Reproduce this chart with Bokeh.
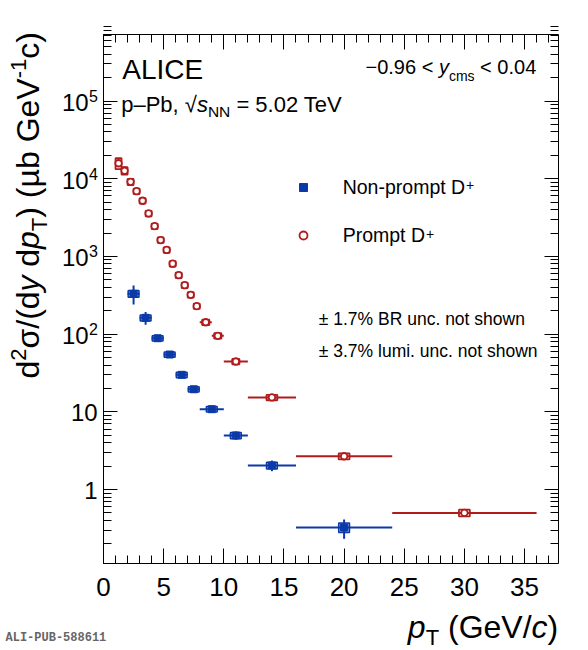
import math
from bokeh.plotting import figure
from bokeh.models import (Label, LinearAxis, LogAxis, FixedTicker, Legend,
                          LegendItem, Range1d, ColumnDataSource, CustomJSTickFormatter)
from bokeh.embed import file_html
from bokeh.resources import INLINE

# ---------------- data ----------------
# Prompt D+
prompt_pt = [1.25, 1.75, 2.25, 2.75, 3.25, 3.75, 4.25, 4.75, 5.25, 5.75,
             6.25, 6.75, 7.25, 7.75, 8.5, 9.5, 11.0, 14.0, 20.0, 30.0]
prompt_lo = [1.0, 1.5, 2.0, 2.5, 3.0, 3.5, 4.0, 4.5, 5.0, 5.5,
             6.0, 6.5, 7.0, 7.5, 8.0, 9.0, 10.0, 12.0, 16.0, 24.0]
prompt_hi = [1.5, 2.0, 2.5, 3.0, 3.5, 4.0, 4.5, 5.0, 5.5, 6.0,
             6.5, 7.0, 7.5, 8.0, 9.0, 10.0, 12.0, 16.0, 24.0, 36.0]
prompt_val = [15800, 12650, 9120, 6900, 5200, 3570, 2450, 1620, 1210, 805,
              573, 426, 320, 229, 142, 95, 44.4, 15.3, 2.68, 0.50]
prompt_stat_rel = [0.05, 0.04, 0.03, 0.03, 0.03, 0.03, 0.03, 0.03, 0.03, 0.03,
                   0.03, 0.03, 0.03, 0.03, 0.03, 0.04, 0.04, 0.05, 0.06, 0.09]
prompt_syst_rel = [0.16, 0.11, 0.09, 0.08, 0.08, 0.08, 0.08, 0.08, 0.08, 0.08,
                   0.08, 0.08, 0.08, 0.08, 0.08, 0.08, 0.08, 0.08, 0.09, 0.10]

# Non-prompt D+
np_pt = [2.5, 3.5, 4.5, 5.5, 6.5, 7.5, 9.0, 11.0, 14.0, 20.0]
np_lo = [2.0, 3.0, 4.0, 5.0, 6.0, 7.0, 8.0, 10.0, 12.0, 16.0]
np_hi = [3.0, 4.0, 5.0, 6.0, 7.0, 8.0, 10.0, 12.0, 16.0, 24.0]
np_val = [330, 162, 88.5, 54.6, 29.9, 19.5, 10.8, 4.96, 2.04, 0.324]
np_stat_up = [92, 30, 5.0, 3.0, 1.5, 1.0, 0.6, 0.6, 0.32, 0.087]
np_stat_dn = [90, 30, 5.0, 3.0, 1.5, 1.0, 0.6, 0.6, 0.32, 0.092]
np_syst_rel = [0.10, 0.09, 0.08, 0.08, 0.08, 0.08, 0.08, 0.09, 0.10, 0.14]

# axis ticks
x_ticks = [0, 5, 10, 15, 20, 25, 30, 35]
x_minor = list(range(0, 38))
y_ticks = [1, 10, 100, 1000, 10000, 100000]
y_tick_base = ["1", "10", "10", "10", "10", "10"]
y_tick_exp = ["", "", "2", "3", "4", "5"]
y_minor = [m * 10.0 ** e for e in range(-1, 6) for m in range(2, 10)]

# plotted box limits
X_MIN, X_MAX = 0.0, 37.8
Y_MIN, Y_MAX = 0.112, 7.2e5

# ---------------- style / geometry ----------------
FONT = "Liberation Sans"
RED = "#b01c1c"
BLUE = "#0b3aa8"
W_FIG, H_FIG = 586, 650
PX_X = 12.03          # px per GeV/c
X0_PX = 103.0         # page x of pT = 0
PX_DEC = 77.7         # px per decade
Y1_PX = 489.0         # page y of value 1
MID = 0.3465          # em distance from 'middle' to alphabetic baseline

# Arial / Liberation Sans advance widths (1/1000 em)
W = {' ': 278, '(': 333, ')': 333, '/': 278, '-': 333, '\u2212': 584, '\u2013': 556,
     '.': 278, ',': 278, '<': 584, '=': 584, '+': 584, '%': 889, '\u00b1': 584,
     '\u221a': 549, '\u00b5': 576, '\u03c3': 610,
     'a': 556, 'b': 556, 'c': 500, 'd': 556, 'e': 556, 'f': 278, 'g': 556, 'h': 556,
     'i': 222, 'j': 222, 'k': 500, 'l': 222, 'm': 833, 'n': 556, 'o': 556, 'p': 556,
     'q': 556, 'r': 333, 's': 500, 't': 278, 'u': 556, 'v': 500, 'w': 722, 'x': 500,
     'y': 500, 'z': 500,
     'A': 667, 'B': 667, 'C': 722, 'D': 722, 'E': 667, 'F': 611, 'G': 778, 'H': 722,
     'I': 278, 'J': 500, 'K': 667, 'L': 556, 'M': 833, 'N': 722, 'O': 778, 'P': 667,
     'Q': 778, 'R': 722, 'S': 667, 'T': 611, 'U': 722, 'V': 667, 'W': 944, 'X': 667,
     'Y': 667, 'Z': 611}


def tw(s, size):
    return sum(W.get(ch, 556) for ch in s) * size / 1000.0


p = figure(width=W_FIG, height=H_FIG,
           x_range=Range1d(-X0_PX / PX_X, (W_FIG - X0_PX) / PX_X),
           y_range=Range1d(10 ** (-(H_FIG - Y1_PX) / PX_DEC), 10 ** (Y1_PX / PX_DEC)),
           y_axis_type="log", output_backend="svg", toolbar_location=None,
           min_border=0, min_border_left=0, min_border_right=0,
           min_border_top=0, min_border_bottom=0)
p.background_fill_color = "white"
p.border_fill_color = "white"
p.outline_line_color = None
p.xgrid.visible = False
p.ygrid.visible = False


def style_axis(ax, ticks, minor, tin, mtin, labels, loc, bounds):
    ax.ticker = FixedTicker(ticks=ticks, minor_ticks=minor)
    ax.fixed_location = loc
    ax.bounds = bounds
    ax.major_tick_in = tin
    ax.major_tick_out = 0
    ax.minor_tick_in = mtin
    ax.minor_tick_out = 0
    ax.axis_line_color = "black"
    ax.major_tick_line_color = "black"
    ax.minor_tick_line_color = "black"
    ax.axis_line_width = 1
    ax.major_tick_line_width = 1
    ax.minor_tick_line_width = 1
    if labels:
        ax.major_label_text_font = FONT
        ax.major_label_text_font_size = "26px"
        ax.major_label_text_color = "black"
        ax.major_label_standoff = 15
    else:
        ax.formatter = CustomJSTickFormatter(code="return ''")
        ax.major_label_text_font_size = "10px"
        ax.major_label_standoff = 0


style_axis(p.xaxis[0], x_ticks, x_minor, 15, 8, True, Y_MIN, (X_MIN, X_MAX))
style_axis(p.yaxis[0], y_ticks, y_minor, 14, 8, False, X_MIN, (Y_MIN, Y_MAX))
top_ax = LinearAxis()
style_axis(top_ax, x_ticks, x_minor, 15, 8, False, Y_MAX, (X_MIN, X_MAX))
p.add_layout(top_ax, "above")
right_ax = LogAxis()
style_axis(right_ax, y_ticks, y_minor, 14, 8, False, X_MAX, (Y_MIN, Y_MAX))
p.add_layout(right_ax, "right")

# ---------------- data marks ----------------
def red_half(lo, hi):
    w = hi - lo
    return 0.25 if w < 1 else (0.3 if w <= 2 else 0.45)

src_p = ColumnDataSource(dict(
    pt=prompt_pt, lo=prompt_lo, hi=prompt_hi, val=prompt_val,
    sup=[v * (1 + s) for v, s in zip(prompt_val, prompt_stat_rel)],
    sdn=[v * (1 - s) for v, s in zip(prompt_val, prompt_stat_rel)],
    bl=[x - red_half(a, b) for x, a, b in zip(prompt_pt, prompt_lo, prompt_hi)],
    br=[x + red_half(a, b) for x, a, b in zip(prompt_pt, prompt_lo, prompt_hi)],
    bt=[v * (1 + s) for v, s in zip(prompt_val, prompt_syst_rel)],
    bb=[v * (1 - s) for v, s in zip(prompt_val, prompt_syst_rel)],
))
src_n = ColumnDataSource(dict(
    pt=np_pt, lo=np_lo, hi=np_hi, val=np_val,
    sup=[v + e for v, e in zip(np_val, np_stat_up)],
    sdn=[v - e for v, e in zip(np_val, np_stat_dn)],
    bl=[x - 0.45 for x in np_pt],
    br=[x + 0.45 for x in np_pt],
    bt=[v * (1 + s) for v, s in zip(np_val, np_syst_rel)],
    bb=[v * (1 - s) for v, s in zip(np_val, np_syst_rel)],
))

# non-prompt
p.segment(x0="lo", x1="hi", y0="val", y1="val", source=src_n, line_color=BLUE, line_width=2)
p.segment(x0="pt", x1="pt", y0="sdn", y1="sup", source=src_n, line_color=BLUE, line_width=2)
p.quad(left="bl", right="br", bottom="bb", top="bt", source=src_n,
       fill_color=BLUE, fill_alpha=0.45, line_color=BLUE, line_width=1.5)
r_np = p.scatter(x="pt", y="val", source=src_n, marker="square", size=7,
                 fill_color=BLUE, line_color=BLUE, line_width=1)

# prompt
p.segment(x0="lo", x1="hi", y0="val", y1="val", source=src_p, line_color=RED, line_width=2)
p.segment(x0="pt", x1="pt", y0="sdn", y1="sup", source=src_p, line_color=RED, line_width=2)
p.quad(left="bl", right="br", bottom="bb", top="bt", source=src_p,
       fill_alpha=0, line_color=RED, line_width=1.8)
r_pr = p.scatter(x="pt", y="val", source=src_p, marker="circle", size=6.5,
                 fill_color="white", fill_alpha=1.0, line_color=RED, line_width=1.8)

# ---------------- legend ----------------
LEG_LEFT, LEG_TOP = 292.7, 172.3
legend = Legend(items=[LegendItem(label="Non-prompt D", renderers=[r_np]),
                       LegendItem(label="Prompt D", renderers=[r_pr])],
                location=(LEG_LEFT, H_FIG - LEG_TOP - 78), orientation="vertical",
                glyph_width=20, glyph_height=30, label_height=30, spacing=18,
                padding=0, margin=0, label_standoff=30,
                label_text_font=FONT, label_text_font_size="19.5px",
                label_text_color="black",
                border_line_alpha=0, background_fill_alpha=0)
p.add_layout(legend)

# ---------------- texts ----------------
def rich(pieces, xo, yo, angle=0.0, color="black"):
    """xo, yo: offsets (px) of the text's start on its baseline from the point
    pT = 0, value = 1 (y offsets positive upwards)."""
    cur = 0.0
    for text, size, style, dy in pieces:
        c = MID * size
        lead = tw(text[:len(text) - len(text.lstrip(' '))], size)
        body = text.strip(' ')
        if body:
            if angle == 0:
                lx, ly = xo + cur + lead, yo + dy + c
            else:
                lx, ly = xo - dy - c, yo + cur + lead
            p.add_layout(Label(x=0, y=1, x_offset=lx, y_offset=ly, text=body,
                               text_font=FONT, text_font_size=f"{size}px",
                               text_font_style=style, text_color=color,
                               text_align="left", text_baseline="middle",
                               angle=angle))
        cur += tw(text, size)
    return cur


def at(px, py):
    """page position of a baseline start -> offsets from the anchor"""
    return px - X0_PX, Y1_PX - py


rich([("ALICE", 28, "normal", 0)], *at(121.7, 78.3))
rich([("p\u2013Pb, ", 22, "normal", 0), ("\u221a", 22, "normal", 0),
      ("s", 22, "italic", 0), ("NN", 15.5, "normal", -5),
      (" = 5.02 TeV", 22, "normal", 0)], *at(120.7, 111.7))
rich([("\u22120.96 < ", 20, "normal", 0), ("y", 20, "italic", 0),
      ("cms", 14, "normal", -7), (" < 0.04", 20, "normal", 0)], *at(365, 73.3))
rich([("\u00b1 1.7% BR unc. not shown", 17.5, "normal", 0)], *at(318.3, 325))
rich([("\u00b1 3.7% lumi. unc. not shown", 17.5, "normal", 0)], *at(318.3, 356.7))
# superscript + of the legend entries
rich([("+", 14, "normal", 0)], *at(465.5, 189.5))
rich([("+", 14, "normal", 0)], *at(425.4, 238))

# x-axis title (right-aligned with the box)
xt = [("p", 32, "italic", 0), ("T", 22, "normal", -7), (" (GeV/", 32, "normal", 0),
      ("c", 32, "italic", 0), (")", 32, "normal", 0)]
xw = sum(tw(t, s) for t, s, _, _ in xt)
rich(xt, *at(X0_PX + X_MAX * PX_X - xw, 637.4))

# y-axis title (rotated, baseline at page x 39, starting at page y 378)
yt = [("d", 32, "normal", 0), ("2", 22, "normal", 13), ("\u03c3/(d", 32, "normal", 0),
      ("y", 32, "italic", 0), (" d", 32, "normal", 0), ("p", 32, "italic", 0),
      ("T", 22, "normal", -8), (")", 32, "normal", 0), (" (\u00b5b GeV", 32, "normal", 0),
      ("-1", 22, "normal", 13), ("c", 32, "normal", 0), (")", 32, "normal", 0)]
rich(yt, *at(39, 378), angle=math.pi / 2)

# y tick labels
for v, base, ex in zip(y_ticks, y_tick_base, y_tick_exp):
    if ex:
        p.add_layout(Label(x=0, y=v, x_offset=-14.8, y_offset=-1.5, text=base,
                           text_font=FONT, text_font_size="24px", text_color="black",
                           text_align="right", text_baseline="middle"))
        p.add_layout(Label(x=0, y=v, x_offset=-14.6, y_offset=5, text=ex,
                           text_font=FONT, text_font_size="16px", text_color="black",
                           text_align="left", text_baseline="middle"))
    else:
        p.add_layout(Label(x=0, y=v, x_offset=-5.8, y_offset=-0.5, text=base,
                           text_font=FONT, text_font_size="24px", text_color="black",
                           text_align="right", text_baseline="middle"))

# publication id
rich_id = Label(x=0, y=1, x_offset=5 - X0_PX, y_offset=Y1_PX - 642 + MID * 12,
                text="ALI-PUB-588611", text_font="Liberation Mono",
                text_font_size="12px", text_font_style="bold", text_color="#666666",
                text_align="left", text_baseline="middle")
p.add_layout(rich_id)

open("out.html", "w").write(file_html(p, INLINE))
